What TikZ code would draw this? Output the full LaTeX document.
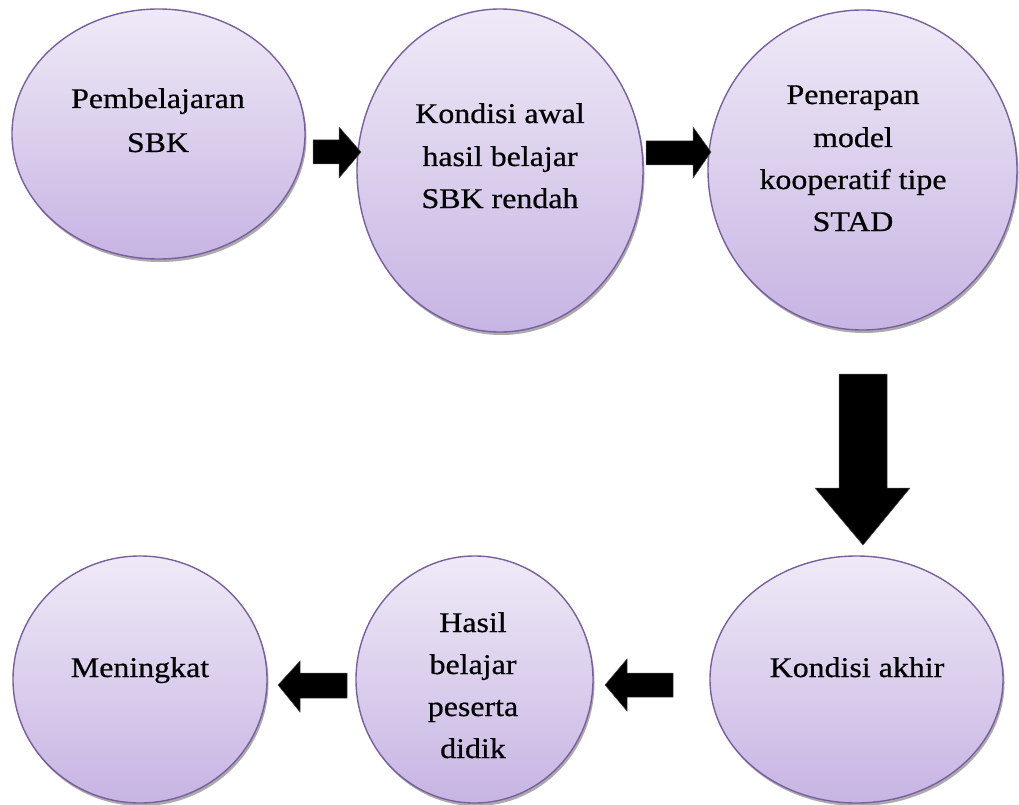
\documentclass[tikz,border=0pt]{standalone}
\usepackage{fontspec}
\setmainfont{Liberation Serif}[FakeStretch=1.12,FakeBold=0.6]
\usetikzlibrary{shapes.geometric,shadows}
\definecolor{bubtop}{HTML}{EFEAF7}
\definecolor{bubbot}{HTML}{C7B4E3}
\definecolor{bubline}{HTML}{7A5FA0}
\tikzset{
  bubble/.style={ellipse, draw=bubline, line width=1.4pt, top color=bubtop, bottom color=bubbot,
    inner sep=0pt, drop shadow={shadow xshift=1.5pt, shadow yshift=-3pt, fill=black!55, opacity=0.6}},
  txt/.style={anchor=base, inner sep=0pt, font=\fontsize{28.5}{42}\selectfont},
  blockarrow/.style={fill=black, draw=black!70, line width=0.5pt}
}
\begin{document}
\begin{tikzpicture}[x=1pt,y=-1pt]
\useasboundingbox (0,0) rectangle (1019,805);
% ellipses
\node[bubble, minimum width=293pt, minimum height=250pt] (e1) at (158.5,134) {};
\node[bubble, minimum width=286pt, minimum height=323pt] (e2) at (500,170.5) {};
\node[bubble, minimum width=309pt, minimum height=320pt] (e3) at (862.5,170) {};
\node[bubble, minimum width=293pt, minimum height=247pt] (e4) at (856.5,679.5) {};
\node[bubble, minimum width=237pt, minimum height=247pt] (e5) at (474.5,679.5) {};
\node[bubble, minimum width=254pt, minimum height=247pt] (e6) at (140,679.5) {};
% texts
\node[txt] (t1a) at (158,108) {Pembelajaran};
\node[txt] (t1b) at (158,152) {SBK};
\node[txt] (t2a) at (500,123) {Kondisi awal};
\node[txt] (t2b) at (500,166) {hasil belajar};
\node[txt] (t2c) at (500,208) {SBK rendah};
\node[txt] (t3a) at (853,104) {Penerapan};
\node[txt] (t3b) at (853,147) {model};
\node[txt] (t3c) at (853,189) {kooperatif tipe};
\node[txt] (t3d) at (853,231) {STAD};
\node[txt] (t4a) at (857,677) {Kondisi akhir};
\node[txt] (t5a) at (473,632) {Hasil};
\node[txt] (t5b) at (473,674) {belajar};
\node[txt] (t5c) at (473,716) {peserta};
\node[txt] (t5d) at (473,758) {didik};
\node[txt] (t6a) at (140,677) {Meningkat};
% block arrows
\draw[blockarrow] (313,140) -- (339,140) -- (339,127) -- (361,152) -- (339,178) -- (339,164) -- (313,164) -- cycle;
\draw[blockarrow] (646,141) -- (693,141) -- (693,127) -- (711,152) -- (693,178) -- (693,165) -- (646,165) -- cycle;
\draw[blockarrow] (839,374) -- (887,374) -- (887,488) -- (910,488) -- (863,545) -- (815,488) -- (839,488) -- cycle;
\draw[blockarrow] (673,673) -- (627,673) -- (627,659) -- (605,685) -- (627,711) -- (627,697) -- (673,697) -- cycle;
\draw[blockarrow] (347,673) -- (300,673) -- (300,661) -- (278,685) -- (300,712) -- (300,698) -- (347,698) -- cycle;
\end{tikzpicture}
\end{document}
